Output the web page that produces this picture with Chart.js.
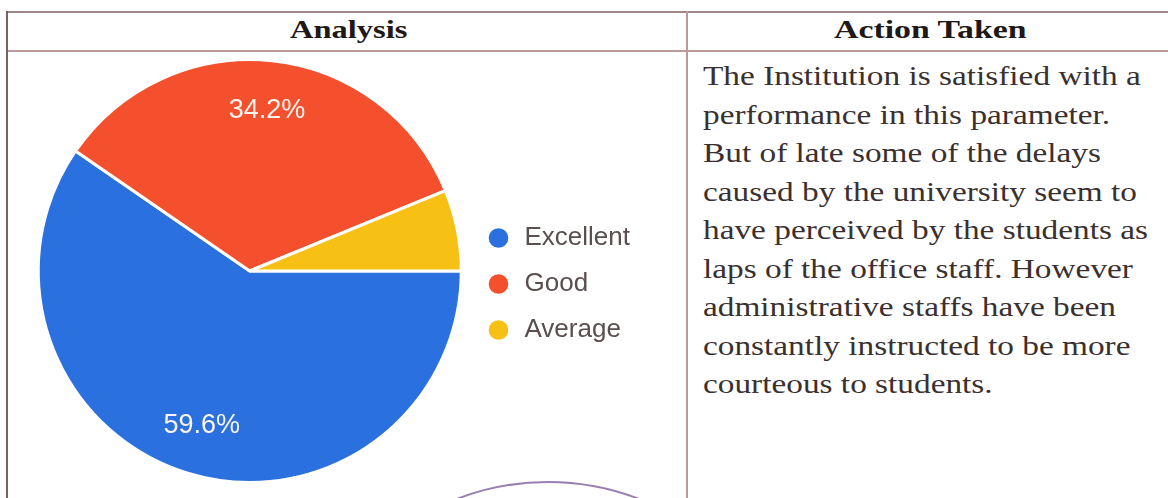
<!DOCTYPE html>
<html>
<head>
<meta charset="utf-8">
<script src="https://cdn.jsdelivr.net/npm/chart.js@4"></script>
<style>
  html, body { margin: 0; padding: 0; background: #fff; }
  body { width: 1168px; height: 498px; position: relative; overflow: hidden; }
  .line { position: absolute; background: #b89a9a; }
  .head { position: absolute; font-family: "Liberation Serif", serif; font-weight: bold; font-size: 26px; color: #1e1818; top: 15px; transform-origin: left top; white-space: nowrap; }
  #texto { position: absolute; left: 703px; top: 57px; font-family: "Liberation Serif", serif; font-size: 28px; line-height: 38.5px; color: #3a3030; white-space: nowrap; transform: scaleX(1.19); transform-origin: left top; }
  #chartBox { position: absolute; left: 10px; top: 52px; width: 676px; height: 446px; }
  #sello { position: absolute; left: 293px; top: 481px; width: 510px; height: 510px; border-radius: 50%; border: 2px solid #9a80b0; box-sizing: border-box; }
</style>
</head>
<body>
<div class="line" style="left:7px; top:11px; width:1161px; height:2px; background:#a08888;"></div>
<div class="line" style="left:7px; top:50px; width:1161px; height:2px;"></div>
<div class="line" style="left:6px; top:11px; width:2px; height:487px; background:#7a6060;"></div>
<div class="line" style="left:686px; top:11px; width:2px; height:487px;"></div>
<div class="head" style="left:290px; transform: scaleX(1.25);">Analysis</div>
<div class="head" style="left:834px; transform: scaleX(1.3);">Action Taken</div>
<div id="sello"></div>
<div id="texto">The Institution is satisfied with a<br>performance in this parameter.<br>But of late some of the delays<br>caused by the university seem to<br>have perceived by the students as<br>laps of the office staff. However<br>administrative staffs have been<br>constantly instructed to be more<br>courteous to students.</div>
<div id="chartBox"><canvas id="myChart"></canvas></div>
<script>
const categorias = ["Excellent", "Good", "Average"];
const valores = [59.6, 34.2, 6.2];
const colores = ["#2a70de", "#f5502e", "#f6c014"];

// etiquetas de porcentaje dentro de las tajadas grandes
const etiquetas = {
    id: "etiquetas",
    afterDatasetsDraw(chart) {
        const ctx = chart.ctx;
        const meta = chart.getDatasetMeta(0);
        ctx.save();
        ctx.font = "27px 'Liberation Sans', Arial, sans-serif";
        ctx.fillStyle = "#fbf4ee";
        ctx.textAlign = "center";
        ctx.textBaseline = "middle";
        meta.data.forEach((arc, i) => {
            if (valores[i] < 10) return;
            const p = arc.getProps(["x", "y", "startAngle", "endAngle", "outerRadius"], true);
            const ang = (p.startAngle + p.endAngle) / 2;
            const r = p.outerRadius * 0.765;
            ctx.fillText(valores[i].toFixed(1) + "%", p.x + Math.cos(ang) * r, p.y + Math.sin(ang) * r);
        });
        ctx.restore();
    }
};

const ctx = document.querySelector("#myChart").getContext("2d");
new Chart(ctx, {
    type: "pie",
    data: {
        labels: categorias,
        datasets: [{
            data: valores,
            backgroundColor: colores,
            borderColor: "#ffffff",
            borderWidth: 3
        }]
    },
    options: {
        responsive: true,
        maintainAspectRatio: false,
        animation: false,
        rotation: 90,
        layout: {
            padding: { left: 24, top: 6, bottom: 14, right: 46 }
        },
        plugins: {
            tooltip: { enabled: false },
            legend: {
                position: "right",
                align: "center",
                title: { display: true, text: "", padding: 7, font: { size: 10 } },
                labels: {
                    usePointStyle: true,
                    pointStyle: "circle",
                    boxWidth: 26,
                    boxHeight: 16,
                    padding: 20,
                    color: "#5a4e4e",
                    font: { family: "'Liberation Sans', Arial, sans-serif", size: 26 }
                }
            }
        }
    },
    plugins: [etiquetas]
});
</script>
</body>
</html>
